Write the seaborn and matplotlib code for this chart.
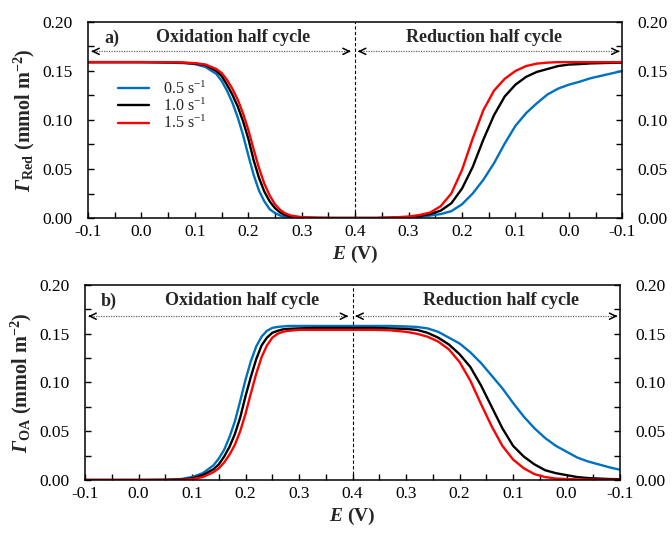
import numpy as np
import pandas as pd
import seaborn as sns
import matplotlib.pyplot as plt
from matplotlib.ticker import MultipleLocator

# Potential grids (V): forward sweep -0.1 -> 0.4, reverse sweep 0.4 -> -0.1
fwd_E = [-0.10, -0.05, 0.00, 0.05, 0.08, 0.10, 0.12, 0.14, 0.15, 0.16, 0.17, 0.18, 0.19,
         0.20, 0.21, 0.22, 0.23, 0.24, 0.25, 0.26, 0.27, 0.28, 0.30, 0.33, 0.36, 0.40]
rev_E = [0.40, 0.36, 0.33, 0.30, 0.28, 0.26, 0.24, 0.22, 0.20, 0.18, 0.16, 0.14, 0.12,
         0.10, 0.08, 0.06, 0.04, 0.02, 0.00, -0.02, -0.04, -0.06, -0.08, -0.10]

rates = ['0.5 s$^{-1}$', '1.0 s$^{-1}$', '1.5 s$^{-1}$']
colors = ['#0070C0', 'black', '#FF0000']

# a) Gamma_Red (mmol m-2), forward sweep
red_fwd_05 = [0.159, 0.159, 0.159, 0.1585, 0.158, 0.157, 0.154, 0.147, 0.140, 0.130, 0.118, 0.103, 0.085,
              0.064, 0.044, 0.028, 0.017, 0.009, 0.005, 0.0025, 0.0012, 0.0006, 0.0002, 0, 0, 0]
red_fwd_10 = [0.159, 0.159, 0.159, 0.1588, 0.1583, 0.1575, 0.156, 0.150, 0.145, 0.136, 0.126, 0.114, 0.099,
              0.081, 0.059, 0.041, 0.027, 0.017, 0.010, 0.0055, 0.003, 0.0015, 0.0004, 0.0001, 0, 0]
red_fwd_15 = [0.159, 0.159, 0.159, 0.159, 0.1585, 0.158, 0.1565, 0.152, 0.148, 0.141, 0.132, 0.121, 0.107,
              0.090, 0.070, 0.051, 0.035, 0.023, 0.014, 0.008, 0.0045, 0.0025, 0.0008, 0.0002, 0, 0]
# a) reverse sweep
red_rev_05 = [0, 0, 0.0002, 0.0006, 0.0012, 0.0025, 0.004, 0.007, 0.014, 0.025, 0.039, 0.056, 0.076,
              0.094, 0.107, 0.117, 0.126, 0.132, 0.136, 0.139, 0.1425, 0.145, 0.1475, 0.150]
red_rev_10 = [0, 0, 0.0003, 0.001, 0.002, 0.004, 0.0075, 0.015, 0.030, 0.052, 0.080, 0.105, 0.124,
              0.136, 0.144, 0.149, 0.152, 0.155, 0.1565, 0.157, 0.1577, 0.158, 0.1583, 0.1585]
red_rev_15 = [0, 0, 0.0005, 0.0015, 0.003, 0.0055, 0.012, 0.025, 0.049, 0.081, 0.110, 0.130, 0.142,
              0.150, 0.155, 0.1575, 0.1585, 0.159, 0.159, 0.159, 0.159, 0.159, 0.159, 0.159]

# b) Gamma_OA (mmol m-2), forward sweep
oa_fwd_05 = [0, 0, 0, 0.0002, 0.001, 0.003, 0.007, 0.015, 0.022, 0.031, 0.044, 0.060, 0.081,
             0.103, 0.122, 0.137, 0.147, 0.153, 0.156, 0.157, 0.1575, 0.158, 0.158, 0.158, 0.158, 0.158]
oa_fwd_10 = [0, 0, 0, 0.0001, 0.0005, 0.0017, 0.005, 0.011, 0.016, 0.024, 0.034, 0.047, 0.064,
             0.086, 0.106, 0.124, 0.138, 0.146, 0.151, 0.153, 0.1545, 0.155, 0.1555, 0.156, 0.156, 0.156]
oa_fwd_15 = [0, 0, 0, 0, 0.0002, 0.001, 0.003, 0.008, 0.012, 0.018, 0.026, 0.036, 0.050,
             0.068, 0.089, 0.109, 0.126, 0.138, 0.146, 0.150, 0.152, 0.153, 0.154, 0.154, 0.154, 0.154]
# b) reverse sweep
oa_rev_05 = [0.158, 0.158, 0.158, 0.1575, 0.157, 0.1555, 0.152, 0.146, 0.140, 0.131, 0.120, 0.107, 0.094,
             0.079, 0.065, 0.053, 0.043, 0.035, 0.029, 0.023, 0.019, 0.016, 0.013, 0.0105]
oa_rev_10 = [0.156, 0.156, 0.1555, 0.155, 0.154, 0.151, 0.146, 0.139, 0.129, 0.116, 0.097, 0.075, 0.053,
             0.035, 0.024, 0.016, 0.010, 0.007, 0.005, 0.003, 0.002, 0.0015, 0.001, 0.0008]
oa_rev_15 = [0.154, 0.154, 0.1535, 0.152, 0.150, 0.147, 0.142, 0.134, 0.121, 0.102, 0.078, 0.055, 0.035,
             0.021, 0.012, 0.006, 0.003, 0.0015, 0.001, 0.0006, 0.0004, 0.0003, 0.0002, 0.0002]

xtick_labels = ['-0.1', '0.0', '0.1', '0.2', '0.3', '0.4', '0.3', '0.2', '0.1', '0.0', '-0.1']


def build_frame(fwd_list, rev_list):
    # position along the sweep: forward 0 -> 0.5, reverse 0.5 -> 1.0
    rows = []
    for rate, fwd, rev in zip(rates, fwd_list, rev_list):
        pos = [e + 0.1 for e in fwd_E] + [0.9 - e for e in rev_E[1:]]
        vals = list(fwd) + list(rev[1:])
        rows.append(pd.DataFrame({'pos': pos, 'gamma': vals, 'rate': rate}))
    return pd.concat(rows, ignore_index=True)


def sweep_arrow(ax, x0, x1, y):
    ax.plot([x0, x1], [y, y], color='0.4', lw=0.9, ls=(0, (1, 1)))
    for tip, tail in ((x0, x0 + 0.004), (x1, x1 - 0.004)):
        ax.annotate('', xy=(tip, y), xytext=(tail, y),
                    arrowprops=dict(arrowstyle='->,head_length=0.45,head_width=0.22',
                                    color='black', lw=1.1, shrinkA=0, shrinkB=0))


sns.set_style('ticks')
plt.rcParams['font.family'] = ['Liberation Serif', 'DejaVu Serif']
plt.rcParams['mathtext.fontset'] = 'custom'
plt.rcParams['mathtext.rm'] = 'Liberation Serif'
plt.rcParams['mathtext.it'] = 'Liberation Serif:italic'
plt.rcParams['mathtext.bf'] = 'Liberation Serif:bold'
plt.rcParams['mathtext.bfit'] = 'Liberation Serif:italic:bold'

fig = plt.figure(figsize=(6.72, 5.35), dpi=100)
ax_a = fig.add_axes([0.131, 0.5925, 0.795, 0.3665])
ax_b = fig.add_axes([0.1265, 0.1028, 0.7963, 0.3645])

panels = [
    (ax_a, build_frame([red_fwd_05, red_fwd_10, red_fwd_15], [red_rev_05, red_rev_10, red_rev_15]),
     r'$\mathbfit{\Gamma}_{\mathbf{Red}}$ (mmol m$^{\mathbf{-2}}$)', 'a)', 0.170,
     (0.271, 0.742)),
    (ax_b, build_frame([oa_fwd_05, oa_fwd_10, oa_fwd_15], [oa_rev_05, oa_rev_10, oa_rev_15]),
     r'$\mathbfit{\Gamma}_{\mathbf{OA}}$ (mmol m$^{\mathbf{-2}}$)', 'b)', 0.168,
     (0.294, 0.778)),
]

for i, (ax, df, ylab, tag, arrow_y, text_x) in enumerate(panels):
    sns.lineplot(data=df, x='pos', y='gamma', hue='rate', hue_order=rates,
                 palette=dict(zip(rates, colors)), sort=False, lw=1.7,
                 legend=(i == 0), ax=ax)

    ax.axvline(0.5, color='black', lw=0.8, ls=(0, (3, 2)))
    sweep_arrow(ax, 0.006, 0.492, arrow_y)
    sweep_arrow(ax, 0.505, 0.995, arrow_y)

    ax.text(0.03, 0.183, tag, fontsize=13, fontweight='bold', va='center', ha='left')
    ax.text(text_x[0], 0.184, 'Oxidation half cycle', fontsize=13, fontweight='bold',
            va='center', ha='center')
    ax.text(text_x[1], 0.184, 'Reduction half cycle', fontsize=13, fontweight='bold',
            va='center', ha='center')

    ax.set_xlim(0, 1.0)
    ax.set_ylim(0, 0.2)
    ax.set_xticks(np.arange(0, 1.01, 0.1))
    ax.set_xticklabels(xtick_labels)
    ax.xaxis.set_minor_locator(MultipleLocator(0.05))
    ax.yaxis.set_major_locator(MultipleLocator(0.05))
    ax.yaxis.set_minor_locator(MultipleLocator(0.025))
    ax.yaxis.set_major_formatter(plt.FormatStrFormatter('%.2f'))
    ax.tick_params(which='both', direction='in', length=4, width=1.0,
                   top=False, right=True, labelright=True, colors='black')
    ax.tick_params(axis='x', which='both', pad=4, labelsize=12.5)
    ax.tick_params(axis='y', which='both', pad=11, labelsize=12.5)
    for sp in ax.spines.values():
        sp.set_visible(True)
        sp.set_linewidth(1.1)
        sp.set_color('black')

    ax.set_xlabel(r'$\mathbfit{E}$ (V)', fontsize=14, fontweight='bold', labelpad=3)
    ax.set_ylabel(ylab, fontsize=14.5, fontweight='bold', labelpad=4)

handles, labels = ax_a.get_legend_handles_labels()
ax_a.legend(handles, labels, loc='upper left', bbox_to_anchor=(0.03, 0.775),
            frameon=False, fontsize=11.5, handlelength=1.9, handletextpad=0.9,
            labelspacing=0.0)

plt.savefig('out.png', dpi=100)
